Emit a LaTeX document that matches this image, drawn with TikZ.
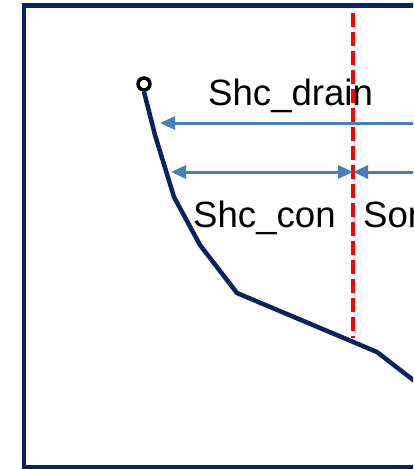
\documentclass[tikz,border=0pt]{standalone}
\usepackage{fontspec}
\setmainfont{Liberation Sans}
\usepackage{xcolor}
\usetikzlibrary{positioning, arrows.meta}
\definecolor{navy}{HTML}{0B2260}
\definecolor{steel}{HTML}{4A7EBB}
\definecolor{cutred}{HTML}{FF0000}
\tikzset{
  dimarrow/.style={draw=steel, line width=3pt,
    -{Triangle[length=15pt, width=13pt]}},
  dimboth/.style={draw=steel, line width=3pt,
    {Triangle[length=15pt, width=13pt]}-{Triangle[length=15pt, width=13pt]}},
  lbl/.style={font=\fontsize{36.6}{40}\selectfont, inner sep=0pt, anchor=base west}
}

\begin{document}
\begin{tikzpicture}[x=1pt, y=-1pt]
  \useasboundingbox (0, 0) rectangle (413, 469);
  \clip (0, 0) rectangle (413, 469);

  % Outer frame (runs off the right side)
  \draw[draw=navy, line width=4.5pt] (430, 5.5) -- (24, 5.5) -- (24, 467) -- (430, 467);

  % Cut line
  \draw[cutred, line width=4pt, dash pattern=on 14pt off 5pt] (353, 13) -- (353, 338);

  % Profile curve with start marker
  \node[circle, draw=black, line width=3.5pt, minimum size=12pt, inner sep=0pt]
    (start) at (144, 84) {};
  \draw[navy, line width=4.5pt, line join=round]
    (start.south) -- (155, 135) -- (174, 197) -- (200, 245) -- (237, 293)
    -- (377, 352) -- (430, 393);

  % Dimension arrows
  \coordinate (drainL) at (160, 123);
  \coordinate (drainR) at (430, 123);
  \coordinate (conL)   at (171, 172);
  \coordinate (cut)    at (353, 172);
  \coordinate (sonR)   at (430, 172);
  \draw[dimarrow] (drainR) -- (drainL);
  \draw[dimboth]  (conL) -- (cut);
  \draw[dimarrow] (sonR) -- (cut);

  % Labels
  \node[lbl] (drain) at (208, 105) {Shc\_drain};
  \node[lbl] (con)   at (193, 227) {Shc\_con};
  \node[lbl] (son)   at (363, 227) {Son};
\end{tikzpicture}
\end{document}
